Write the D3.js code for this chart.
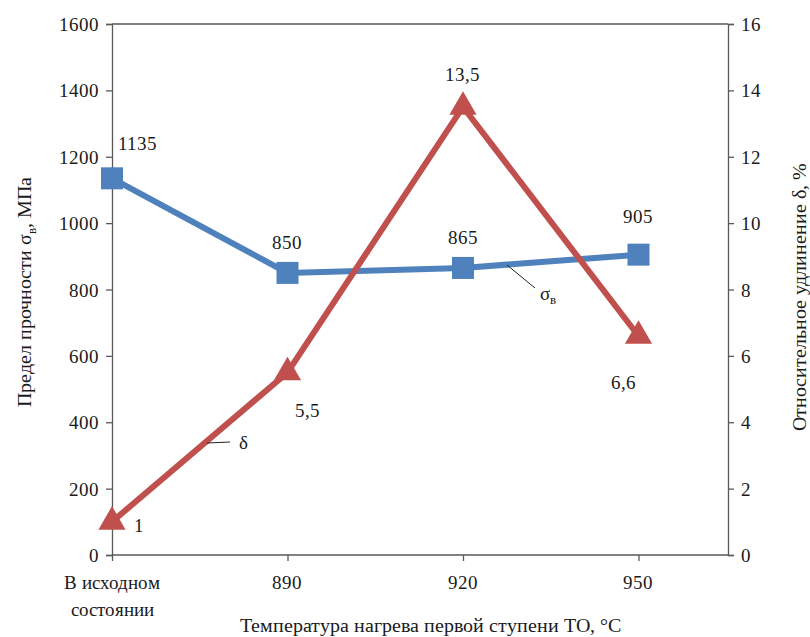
<!DOCTYPE html>
<html><head><meta charset="utf-8">
<script src="https://cdn.jsdelivr.net/npm/d3@7"></script>
<style>
@font-face { font-family: "ChartSerif"; src: local("Liberation Serif"), local("LiberationSerif"), local("Liberation Serif Regular"), local("LiberationSerif-Regular"); }
body{margin:0;background:#fff}
</style>
</head><body>
<svg id="c" width="810" height="637" font-family="Liberation Serif"></svg>
<script>
const categories = [["В исходном", "состоянии"], ["890"], ["920"], ["950"]];
const sigma = [1135, 850, 865, 905];
const delta = [1, 5.5, 13.5, 6.6];
const sigmaLabels = ["1135", "850", "865", "905"];
const deltaLabels = ["1", "5,5", "13,5", "6,6"];
const leftTicks = [0, 200, 400, 600, 800, 1000, 1200, 1400, 1600];
const rightTicks = [0, 2, 4, 6, 8, 10, 12, 14, 16];

const svg = d3.select("#c");
const L = 112, R = 728, T = 24, B = 555;
const x = d3.scaleLinear().domain([0, 3.51]).range([L, R]);
const yL = d3.scaleLinear().domain([0, 1600]).range([B, T]);
const yR = d3.scaleLinear().domain([0, 16]).range([B, T]);
const axisColor = "#595959";
const ink = "#1a1a1a";

const txt = (fs = 19) => svg.append("text")
  .attr("font-family", "Liberation Serif")
  .style("font-family", "ChartSerif, 'Liberation Serif', Tinos, serif")
  .attr("font-size", fs).attr("fill", ink);

svg.append("line").attr("x1", L).attr("x2", R).attr("y1", T).attr("y2", T).attr("stroke", axisColor).attr("stroke-width", 1.3);

const gL = svg.append("g").attr("transform", `translate(${L},0)`)
  .call(d3.axisLeft(yL).tickValues(leftTicks).tickSize(6).tickFormat(() => ""));
const gR = svg.append("g").attr("transform", `translate(${R},0)`)
  .call(d3.axisRight(yR).tickValues(rightTicks).tickSize(6).tickFormat(() => ""));
const gB = svg.append("g").attr("transform", `translate(0,${B})`)
  .call(d3.axisBottom(x).tickValues([0, 1, 2, 3]).tickSize(6).tickFormat(() => ""));
[gL, gR, gB].forEach(g => {
  g.attr("font-family", null);
  g.selectAll("path.domain").attr("stroke", axisColor).attr("stroke-width", 1.3);
  g.selectAll(".tick line").attr("stroke", axisColor).attr("stroke-width", 1.3);
  g.selectAll(".tick text").remove();
});
gB.selectAll("path.domain").attr("d", `M${L},0H${R}`);

leftTicks.forEach(v => txt().attr("x", L - 13).attr("y", yL(v) + 7).attr("text-anchor", "end").text(v));
rightTicks.forEach(v => txt().attr("x", R + 13).attr("y", yR(v) + 7).attr("text-anchor", "start").text(v));

categories.forEach((c, i) => {
  const t = txt().attr("x", x(i)).attr("y", 589).attr("text-anchor", "middle");
  c.forEach((line, j) => t.append("tspan").attr("x", x(i)).attr("dy", j === 0 ? 0 : 27).text(line));
});

txt(20).attr("x", 430).attr("y", 632).attr("text-anchor", "middle")
  .text("Температура нагрева первой ступени ТО, °С");
const lt = txt(20).attr("transform", "translate(31,292) rotate(-90)").attr("text-anchor", "middle");
lt.append("tspan").text("Предел  прочности  σ");
lt.append("tspan").attr("font-size", 13).attr("dy", 5).text("в");
lt.append("tspan").attr("dy", -5).text(",  МПа");
txt(20).attr("transform", "translate(806,297) rotate(-90)").attr("text-anchor", "middle")
  .text("Относительное  удлинение  δ, %");

const blue = "#4F81BD", red = "#C0504D";
svg.append("path").datum(sigma).attr("fill", "none").attr("stroke", blue).attr("stroke-width", 6)
  .attr("d", d3.line().x((d, i) => x(i)).y(d => yL(d)));
svg.append("path").datum(delta).attr("fill", "none").attr("stroke", red).attr("stroke-width", 6)
  .attr("d", d3.line().x((d, i) => x(i)).y(d => yR(d)));

svg.selectAll("rect.m").data(sigma).enter().append("rect")
  .attr("x", (d, i) => x(i) - 11).attr("y", d => yL(d) - 11).attr("width", 22).attr("height", 22).attr("fill", blue);
const tri = d3.symbol().type(d3.symbolTriangle).size(320);
svg.selectAll("path.t").data(delta).enter().append("path")
  .attr("d", tri).attr("transform", (d, i) => `translate(${x(i)},${yR(d)})`).attr("fill", red);

const sOff = [[6, -28, "start"], [0, -24, "middle"], [0, -24, "middle"], [0, -32, "middle"]];
sigma.forEach((d, i) => txt().attr("x", x(i) + sOff[i][0]).attr("y", yL(d) + sOff[i][1])
  .attr("text-anchor", sOff[i][2]).text(sigmaLabels[i]));
const dOff = [[22, 10, "start"], [8, 45, "start"], [0, -26, "middle"], [-2, 53, "end"]];
delta.forEach((d, i) => txt().attr("x", x(i) + dOff[i][0]).attr("y", yR(d) + dOff[i][1])
  .attr("text-anchor", dOff[i][2]).text(deltaLabels[i]));

svg.append("line").attr("x1", 507).attr("y1", 265).attr("x2", 535).attr("y2", 288).attr("stroke", "#222").attr("stroke-width", 1);
const sa = txt().attr("x", 540).attr("y", 300);
sa.append("tspan").text("σ");
sa.append("tspan").attr("font-size", 13).attr("dy", 4).text("в");
svg.append("line").attr("x1", 207).attr("y1", 443).attr("x2", 230).attr("y2", 442).attr("stroke", "#222").attr("stroke-width", 1);
txt().attr("x", 239).attr("y", 449).text("δ");
</script>
</body></html>
